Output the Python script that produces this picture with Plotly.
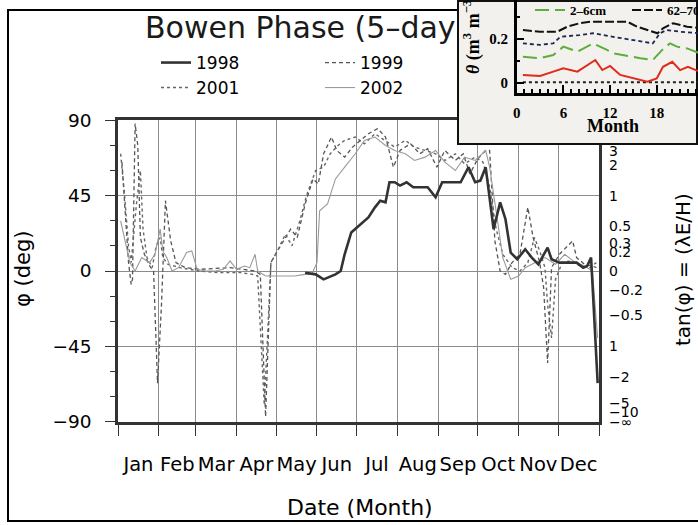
import math
import plotly.graph_objects as go

# ---------------- main chart data ----------------
TITLE = "Bowen Phase (5–day"
MONTHS = ["Jan", "Feb", "Mar", "Apr", "May", "Jun", "Jul", "Aug", "Sep", "Oct", "Nov", "Dec"]
MONTH_STARTS = [0, 31, 59, 90, 120, 151, 181, 212, 243, 273, 304, 334, 365]
MONTH_MIDS = [15.5, 45, 74.5, 105, 135.5, 166, 196.5, 227.5, 258, 288.5, 319, 349.5]
PHI_TICKS = [-90, -45, 0, 45, 90]

TAN_LABEL_VALUES = [math.inf, 10, 5, 3, 2, 1, 0.5, 0.3, 0.2, 0, -0.2, -0.5, -1, -2, -5, -10, -math.inf]
TAN_LABELS = ["∞", "10", "5", "3", "2", "1", "0.5", "0.3", "0.2", "0", "−0.2", "−0.5", "1", "−2", "−5", "−10", "−∞"]
TAN_GRID_VALUES = [10, 5, 3, 2, 0.5, 0.3, 0.2, -0.2, -0.3, -0.5, -2, -3, -5, -10]

days_1998 = [142, 150, 156, 165, 169, 172, 177, 184, 190, 195, 199, 203, 206, 210, 214, 219, 224, 229, 235, 241,
             246, 252, 260, 266, 271, 275, 279, 285, 290, 294, 298, 303, 309, 314, 319, 326, 329, 335, 342, 348,
             353, 356, 359, 361, 364]
phi_1998 = [-1, -2, -5, -2, 0, 10, 23, 28, 32, 38, 42, 41, 53, 53, 51, 53, 50, 50, 50, 44,
            53, 53, 53, 62, 53, 54, 62, 25, 41, 31, 11, 7, 13, 8, 4, 14, 7, 5, 5, 5,
            2, 3, 8, -23, -67]

days_1999 = [3, 5, 8, 10, 11, 13, 15, 17, 20, 24, 27, 30, 33, 36, 38, 40, 44, 51, 62, 85,
             104, 108, 112, 116, 121, 131, 136, 142, 148, 152, 156, 162, 166, 172, 178, 184, 190, 197, 203, 209,
             214, 222, 229, 235, 242, 248, 256, 262, 267, 273, 279, 282, 286, 290, 294, 299, 305, 311, 315, 320,
             323, 326, 329, 335, 345, 348, 354, 360, 363]
phi_1999 = [65, 40, 5, -8, -5, 88, 75, 20, 10, 3, 0, -67, -20, 42, 30, 18, 5, 2, 1, 2,
            0, -2, -87, 5, 12, 25, 20, 40, 55, 52, 70, 80, 72, 68, 74, 78, 82, 85, 80, 62,
            72, 76, 70, 73, 62, 72, 66, 70, 58, 67, 72, 72, 18, 0, -2, 5, 10, 38, 20, 5,
            -10, -55, 2, 10, 18, 8, 4, 3, 2]

days_2001 = [2, 5, 8, 10, 14, 17, 19, 22, 26, 29, 32, 34, 38, 47, 62, 77, 93, 102, 106, 109,
             111, 114, 116, 121, 127, 132, 138, 143, 150, 156, 161, 167, 172, 180, 187, 195, 203, 210, 218, 225,
             233, 241, 248, 256, 263, 271, 277, 282, 287, 292, 299, 305, 311, 316, 320, 324, 326, 329, 332, 337,
             343, 351, 358, 363]
phi_2001 = [70, 45, 15, 5, 40, 60, 25, 8, 2, 15, 20, 8, 4, 2, 0, -1, -1, -2, -3, -50,
            -80, -30, 5, 12, 22, 15, 30, 45, 60, 62, 70, 75, 78, 80, 76, 82, 78, 74, 78, 74,
            72, 70, 66, 70, 64, 68, 65, 50, 25, 10, 2, 0, 5, 20, 12, 2, -20, -40, -5, 5,
            6, 3, 2, 5]

days_2002 = [2, 5, 9, 13, 18, 24, 28, 32, 34, 37, 41, 46, 52, 56, 60, 66, 74, 80, 85, 90,
             96, 100, 104, 106, 112, 119, 127, 134, 142, 147, 151, 153, 159, 165, 172, 180, 187, 195, 203, 210,
             218, 225, 233, 241, 248, 256, 263, 271, 279, 282, 288, 292, 298, 304, 309, 316, 324, 332, 339, 347,
             354, 360, 364]
phi_2002 = [30, 20, 5, 0, 8, 5, 10, 25, 12, 8, 0, 2, 11, 12, 1, 0, 0, 1, 6, 1,
            3, 2, 10, 0, -3, -3, -3, -3, -2, -2, 5, 36, 40, 55, 62, 70, 78, 80, 75, 72,
            70, 66, 68, 72, 65, 60, 68, 66, 72, 62, 30, 8, -5, -3, 2, 5, 8, 4, 10, 5,
            3, 0, -40]

# ---------------- inset data (soil moisture) ----------------
INSET_XTICKS = [0, 6, 12, 18, 24]
INSET_YTICKS = [0, 0.2, 0.4]
INSET_YLABELS = ["0", "0.2", "0.4"]

m_black = [0.8, 3.0, 5.2, 6.5, 8.1, 9.4, 14.2, 15.5, 16.8, 18.1, 18.8, 20.1, 21.9, 23.5]
t_black = [0.242, 0.234, 0.234, 0.257, 0.273, 0.280, 0.280, 0.257, 0.242, 0.227, 0.250, 0.273, 0.257, 0.251]
m_blue = [0.8, 3.0, 4.7, 5.6, 8.1, 9.8, 12.4, 15.9, 17.5, 18.4, 19.3, 21.0, 23.5]
t_blue = [0.181, 0.174, 0.181, 0.211, 0.219, 0.227, 0.211, 0.189, 0.181, 0.227, 0.242, 0.234, 0.227]
m_green = [0.8, 3.0, 4.7, 6.0, 7.8, 9.8, 11.6, 12.4, 15.9, 17.5, 18.7, 19.7, 20.6, 21.9, 23.5]
t_green = [0.120, 0.113, 0.128, 0.166, 0.143, 0.181, 0.151, 0.136, 0.113, 0.105, 0.151, 0.181, 0.166, 0.158, 0.136]
m_red = [0.8, 3.0, 4.7, 6.0, 7.8, 10.1, 11.0, 12.0, 13.3, 15.0, 16.8, 18.0, 18.8, 20.0, 21.0, 22.0, 23.5]
t_red = [0.037, 0.032, 0.052, 0.067, 0.052, 0.105, 0.059, 0.078, 0.037, 0.021, 0.006, 0.021, 0.074, 0.097, 0.059,
         0.074, 0.052]
m_zero = [0.8, 23.5]
t_zero = [0.003, 0.003]

FRAME_X = [0, 1, 1, 0, 0]
FRAME_Y = [0, 0, 1, 1, 0]

W, H = 698, 525


def px(x):
    return x / W


def py(y):
    return (H - y) / H


def deg(v):
    return math.degrees(math.atan(v))


FONT = "DejaVu Sans"
SERIF = "Liberation Serif"

fig = go.Figure()

# main series
fig.add_trace(go.Scatter(x=days_1998, y=phi_1998, name="1998", mode="lines",
                         line=dict(color="#333333", width=2.6), legend="legend",
                         xaxis="x", yaxis="y5"))
fig.add_trace(go.Scatter(x=days_1999, y=phi_1999, name="1999", mode="lines",
                         line=dict(color="#555555", width=1.3, dash="4px,3px"), legend="legend",
                         xaxis="x", yaxis="y"))
fig.add_trace(go.Scatter(x=days_2001, y=phi_2001, name="2001", mode="lines",
                         line=dict(color="#666666", width=1.4, dash="dot"), legend="legend2",
                         xaxis="x", yaxis="y"))
fig.add_trace(go.Scatter(x=days_2002, y=phi_2002, name="2002", mode="lines",
                         line=dict(color="#9a9a9a", width=1.1), legend="legend2",
                         xaxis="x", yaxis="y"))
# title, in its own full-page layer drawn beneath the inset
fig.add_trace(go.Scatter(x=[px(145)], y=[py(30)], mode="text", text=[TITLE], textposition="middle right",
                         textfont=dict(family=FONT, size=30, color="#1a1a1a"),
                         showlegend=False, hoverinfo="skip", xaxis="x2", yaxis="y2"))
# inset frame background
fig.add_trace(go.Scatter(x=FRAME_X, y=FRAME_Y, mode="lines", fill="toself", fillcolor="#f3f1ed",
                         line=dict(color="#111111", width=4), showlegend=False, hoverinfo="skip",
                         xaxis="x3", yaxis="y3"))
# inset lines
fig.add_trace(go.Scatter(x=m_zero, y=t_zero, mode="lines", line=dict(color="#222222", width=2, dash="dot"),
                         showlegend=False, xaxis="x4", yaxis="y4"))
fig.add_trace(go.Scatter(x=m_red, y=t_red, mode="lines", line=dict(color="#e02a1b", width=2),
                         showlegend=False, xaxis="x4", yaxis="y4"))
fig.add_trace(go.Scatter(x=m_green, y=t_green, name="2–6cm", mode="lines",
                         line=dict(color="#5cae3c", width=2, dash="14px,6px"), legend="legend3",
                         xaxis="x4", yaxis="y4"))
fig.add_trace(go.Scatter(x=m_blue, y=t_blue, mode="lines", line=dict(color="#1c2754", width=1.8, dash="4px,3px"),
                         showlegend=False, xaxis="x4", yaxis="y4"))
fig.add_trace(go.Scatter(x=m_black, y=t_black, name="62–70cm", mode="lines",
                         line=dict(color="#111111", width=2, dash="9px,3px"), legend="legend3",
                         xaxis="x4", yaxis="y4"))

axis_line = dict(showline=True, linecolor="#333333", linewidth=2.5, mirror=True, zeroline=False)

fig.update_layout(
    width=W, height=H, autosize=False,
    margin=dict(l=0, r=0, t=0, b=0, autoexpand=False),
    paper_bgcolor="white", plot_bgcolor="rgba(0,0,0,0)",
    hovermode=False,
    font=dict(family=FONT, color="black"),
    xaxis=dict(domain=[px(118), px(599)], range=[0, 365], anchor="y",
               tickmode="array", tickvals=MONTH_MIDS, ticktext=MONTHS, ticks="", showgrid=False, tickangle=0,
               minor=dict(tickmode="array", tickvals=MONTH_STARTS, ticks="outside", ticklen=12,
                          tickwidth=1.2, tickcolor="#333333", showgrid=True, gridcolor="#8c8c8c", gridwidth=1),
               tickfont=dict(family=FONT, size=19.5), ticklabelstandoff=23, automargin=False, **axis_line),
    yaxis=dict(domain=[py(421.7), py(120.3)], range=[-90, 90], anchor="x",
               tickmode="array", tickvals=PHI_TICKS, ticks="outside", ticklen=10, tickwidth=1.2,
               tickcolor="#333333", showgrid=True, gridcolor="#8c8c8c", gridwidth=1,
               minor=dict(tick0=0, dtick=15, ticks="outside", ticklen=5, tickwidth=1, tickcolor="#333333",
                          showgrid=False),
               tickfont=dict(family=FONT, size=18.5), ticklabelstandoff=10, automargin=False, **axis_line),
    yaxis5=dict(overlaying="y", side="right", anchor="x", range=[-90, 90],
                tickmode="array", tickvals=[deg(v) for v in TAN_LABEL_VALUES], ticktext=TAN_LABELS,
                ticks="", showgrid=False, showline=False, zeroline=False,
                tickfont=dict(family=FONT, size=14), ticklabelstandoff=9, automargin=False),
    yaxis6=dict(overlaying="y", side="right", anchor="x", range=[-90, 90],
                tickmode="array", tickvals=[deg(v) for v in TAN_GRID_VALUES], showticklabels=False,
                ticks="", showgrid=True, gridcolor="#d0d0d0", gridwidth=1, showline=False, zeroline=False,
                automargin=False),
    xaxis2=dict(domain=[0, 1], range=[0, 1], anchor="y2", visible=False),
    yaxis2=dict(domain=[0, 1], range=[0, 1], anchor="x2", visible=False),
    xaxis3=dict(domain=[px(457), 1], range=[0, 1], anchor="y3", visible=False),
    yaxis3=dict(domain=[py(145), 1], range=[0, 1], anchor="x3", visible=False),
    xaxis4=dict(domain=[px(516.7), 1], range=[0, 23.3], anchor="y4",
                tickmode="array", tickvals=INSET_XTICKS, ticks="inside", ticklen=8, tickwidth=2,
                tickcolor="black", minor=dict(dtick=1, tick0=0, ticks="inside", ticklen=4, tickwidth=1.5,
                                              tickcolor="black"),
                showline=True, linecolor="black", linewidth=2.5, showgrid=False, zeroline=False,
                tickfont=dict(family=SERIF, size=15, weight="bold"), ticklabelstandoff=4, automargin=False),
    yaxis4=dict(domain=[py(93), 1], range=[-0.0457, 0.379], anchor="x4",
                tickmode="array", tickvals=INSET_YTICKS, ticktext=INSET_YLABELS, ticks="inside", ticklen=8,
                tickwidth=2, tickcolor="black",
                minor=dict(dtick=0.1, tick0=0, ticks="inside", ticklen=4, tickwidth=1.5, tickcolor="black"),
                showline=True, linecolor="black", linewidth=2.5, showgrid=False, zeroline=False,
                tickfont=dict(family=SERIF, size=15, weight="bold"), ticklabelstandoff=3, automargin=False),
    legend=dict(orientation="h", x=px(156), y=py(63), xanchor="left", yanchor="middle",
                entrywidth=119, entrywidthmode="pixels", bgcolor="rgba(0,0,0,0)",
                font=dict(family=FONT, size=17, color="black"), traceorder="normal"),
    legend2=dict(orientation="h", x=px(156), y=py(88), xanchor="left", yanchor="middle",
                 entrywidth=119, entrywidthmode="pixels", bgcolor="rgba(0,0,0,0)",
                 font=dict(family=FONT, size=17, color="black"), traceorder="normal"),
    legend3=dict(orientation="h", x=px(530), y=py(10), xanchor="left", yanchor="middle",
                 entrywidth=52, entrywidthmode="pixels", bgcolor="rgba(0,0,0,0)",
                 font=dict(family=SERIF, size=13, color="black", weight="bold"), traceorder="normal"),
    shapes=[dict(type="rect", xref="paper", yref="paper", x0=px(8), x1=px(702), y0=py(521), y1=py(10),
                 line=dict(color="black", width=2), fillcolor="rgba(0,0,0,0)", layer="below")],
    annotations=[
        dict(text="φ (deg)", x=px(23), y=py(268), xref="paper", yref="paper", showarrow=False,
             textangle=-90, font=dict(family=FONT, size=21), xanchor="center", yanchor="middle"),
        dict(text="Date (Month)", x=px(360), y=py(507), xref="paper", yref="paper", showarrow=False,
             font=dict(family=FONT, size=22), xanchor="center", yanchor="middle"),
        dict(text="tan(φ) = (λE/H)", x=px(683), y=py(270), xref="paper", yref="paper", showarrow=False,
             textangle=-90, font=dict(family=FONT, size=20), xanchor="center", yanchor="middle"),
        dict(text="Month", x=px(613), y=py(126), xref="paper", yref="paper", showarrow=False,
             font=dict(family=SERIF, size=18, weight="bold"), xanchor="center", yanchor="middle"),
        dict(text="<i>θ</i> (m<sup>3</sup> m<sup>−3</sup>)", x=px(472), y=py(34), xref="paper", yref="paper",
             showarrow=False, textangle=-90, font=dict(family=SERIF, size=18, weight="bold"),
             xanchor="center", yanchor="middle"),
    ],
)

fig.write_html(
    "out.html",
    config={"responsive": False, "displayModeBar": False},
    post_script=("document.body.style.margin='0px';document.body.style.overflow='hidden';"
                 "Plotly.relayout('{plot_id}', {width: 698, height: 525});"),
)
